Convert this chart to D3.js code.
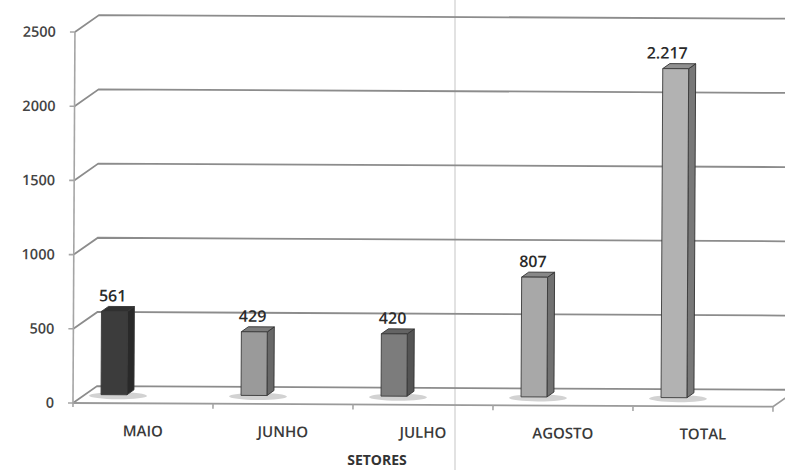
<!DOCTYPE html>
<html><head><meta charset="utf-8">
<script src="https://cdn.jsdelivr.net/npm/d3@7"></script>
<style>body{margin:0;background:#fff}svg{display:block}</style>
</head><body>
<svg id="c" width="785" height="470"></svg>
<script>
const categories = ["MAIO", "JUNHO", "JULHO", "AGOSTO", "TOTAL"];
const values = [561, 429, 420, 807, 2217];
const valueLabels = ["561", "429", "420", "807", "2.217"];
const yTicks = [0, 500, 1000, 1500, 2000, 2500];
const faceColors = ["#3c3c3c", "#9a9a9a", "#7c7c7c", "#a8a8a8", "#b2b2b2"];
const axisTitle = "SETORES";

const W = 785, H = 470;
const left = 73, right = 773, floorY = 403, topY = 32;
const dx = 24, dy = -17;          // depth offset front -> back wall
const mdy = -8.5;                 // bars sit half way into the depth
const sdx = 7, sdy = -5;          // bar's own depth
const font = "'Open Sans', 'Liberation Sans', sans-serif";

const svg = d3.select("#c");
svg.append("rect").attr("width", W).attr("height", H).attr("fill", "#fff");

const x = d3.scaleBand().domain(categories).range([left, right]);
const y = d3.scaleLinear().domain([0, 2500]).range([floorY, topY]);
const bw = x.bandwidth();

// scan artifact: faint vertical fold line
svg.append("line").attr("x1", 455).attr("x2", 455).attr("y1", 0).attr("y2", H)
  .attr("stroke", "#e2e2e2").attr("stroke-width", 2);

const g = svg.append("g").attr("transform", `rotate(0.3, ${left}, ${floorY})`);

// back wall gridlines with left slant
g.selectAll("path.grid").data(yTicks).join("path")
  .attr("class", "grid")
  .attr("d", t => `M${left},${y(t)} L${left + dx},${y(t) + dy} L${W + 30},${y(t) + dy}`)
  .attr("fill", "none").attr("stroke", "#8c8c8c").attr("stroke-width", 1.8);

// front floor edge
g.append("path")
  .attr("d", `M${left},${y(0)} L${right},${y(0)} L${right + dx},${y(0) + dy}`)
  .attr("fill", "none").attr("stroke", "#9a9a9a").attr("stroke-width", 1.8);

// front vertical axis
g.append("line").attr("x1", left).attr("x2", left).attr("y1", y(0) + 4).attr("y2", y(2500))
  .attr("stroke", "#a5a5a5").attr("stroke-width", 1.6);

// y ticks
g.selectAll("line.yt").data(yTicks).join("line").attr("class", "yt")
  .attr("x1", left - 5).attr("x2", left).attr("y1", d => y(d)).attr("y2", d => y(d))
  .attr("stroke", "#a5a5a5").attr("stroke-width", 1.6);

// x ticks at band boundaries
g.selectAll("line.xt").data(categories).join("line").attr("class", "xt")
  .attr("x1", d => x(d) + bw).attr("x2", d => x(d) + bw)
  .attr("y1", y(0)).attr("y2", y(0) + 5)
  .attr("stroke", "#a5a5a5").attr("stroke-width", 1.6);

// y tick labels
g.selectAll("text.yl").data(yTicks).join("text").attr("class", "yl")
  .attr("x", 54).attr("y", d => y(d) + 5)
  .attr("text-anchor", "end").attr("font-family", font).attr("font-size", 14.5)
  .attr("font-weight", 600).attr("fill", "#444").text(d => d);

// category labels
g.selectAll("text.cl").data(categories).join("text").attr("class", "cl")
  .attr("x", d => x(d) + bw / 2).attr("y", 436)
  .attr("text-anchor", "middle").attr("font-family", font).attr("font-size", 15)
  .attr("font-weight", 600).attr("fill", "#3a3a3a").text(d => d);

// axis title
svg.append("text").attr("x", 377).attr("y", 465)
  .attr("text-anchor", "middle").attr("font-family", font).attr("font-size", 14)
  .attr("font-weight", 700).attr("fill", "#333").text(axisTitle);

// bars
const bars = categories.map((c, i) => ({
  c, v: values[i], lab: valueLabels[i], col: faceColors[i],
  x0: x(c) + bw * 0.2, w: bw * 0.185
}));
const base = y(0) + mdy;

const bg = g.selectAll("g.bar").data(bars).join("g").attr("class", "bar");
bg.append("ellipse")
  .attr("cx", d => d.x0 + d.w / 2 + 4).attr("cy", base + 1)
  .attr("rx", d => d.w / 2 + 16).attr("ry", 3.5)
  .attr("fill", "#d2d2d2");
// side face
bg.append("path")
  .attr("d", d => {
    const xr = d.x0 + d.w, yt = y(d.v) + mdy;
    return `M${xr},${base} L${xr},${yt} L${xr + sdx},${yt + sdy} L${xr + sdx},${base + sdy} Z`;
  })
  .attr("fill", d => d3.color(d.col).darker(1.1)).attr("stroke", "#333").attr("stroke-width", 0.9);
// top face
bg.append("path")
  .attr("d", d => {
    const yt = y(d.v) + mdy;
    return `M${d.x0},${yt} L${d.x0 + sdx},${yt + sdy} L${d.x0 + d.w + sdx},${yt + sdy} L${d.x0 + d.w},${yt} Z`;
  })
  .attr("fill", d => d3.color(d.col).darker(0.6)).attr("stroke", "#333").attr("stroke-width", 0.9);
// front face
bg.append("rect")
  .attr("x", d => d.x0).attr("y", d => y(d.v) + mdy)
  .attr("width", d => d.w).attr("height", d => base - (y(d.v) + mdy))
  .attr("fill", d => d.col).attr("stroke", "#3a3a3a").attr("stroke-width", 0.9);

// value labels
bg.append("text")
  .attr("x", d => d.x0 + d.w - 1).attr("y", d => y(d.v) + mdy + sdy - 5)
  .attr("text-anchor", "end").attr("font-family", font).attr("font-size", 16)
  .attr("font-weight", 600).attr("fill", "#2a2a2a").text(d => d.lab);
</script>
</body></html>
